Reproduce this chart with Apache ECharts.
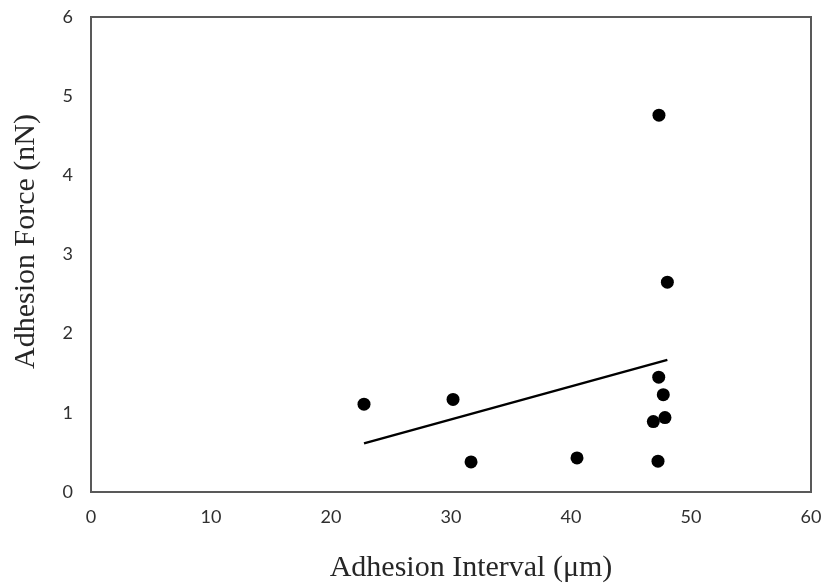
<!DOCTYPE html>
<html>
<head>
<meta charset="utf-8">
<title>Adhesion Force vs Adhesion Interval</title>
<script src="https://cdn.jsdelivr.net/npm/echarts@6/dist/echarts.min.js"></script>
<style>
  html, body { margin: 0; padding: 0; background: #ffffff; }
  #chart { width: 826px; height: 588px; }
</style>
</head>
<body>
<div id="chart"></div>
<script>
// Measured adhesion interval (µm) and adhesion force (nN)
const adhesionInterval = [22.75, 30.17, 31.67, 40.5, 47.33, 48.03, 47.31, 47.69, 46.86, 47.83, 47.25];
const adhesionForce    = [1.11, 1.17, 0.38, 0.43, 4.76, 2.65, 1.45, 1.23, 0.89, 0.94, 0.39];

const xTicks = [0, 10, 20, 30, 40, 50, 60];
const yTicks = [0, 1, 2, 3, 4, 5, 6];

// Least-squares linear trend line over the measured range
function linearFit(xs, ys) {
  const n = xs.length;
  const mx = xs.reduce((a, b) => a + b, 0) / n;
  const my = ys.reduce((a, b) => a + b, 0) / n;
  let sxy = 0, sxx = 0;
  for (let i = 0; i < n; i++) {
    sxy += (xs[i] - mx) * (ys[i] - my);
    sxx += (xs[i] - mx) * (xs[i] - mx);
  }
  const slope = sxy / sxx;
  return { slope, intercept: my - slope * mx };
}
const fit = linearFit(adhesionInterval, adhesionForce);
const xMin = Math.min(...adhesionInterval);
const xMax = Math.max(...adhesionInterval);
const trend = [
  [xMin, fit.intercept + fit.slope * xMin],
  [xMax, fit.intercept + fit.slope * xMax]
];

const points = adhesionInterval.map((x, i) => [x, adhesionForce[i]]);

const chart = echarts.init(document.getElementById('chart'), null, { renderer: 'canvas' });
const tickFont = { fontFamily: 'Lato, "Open Sans", sans-serif', fontSize: 18, color: '#303030' };
const titleFont = { fontFamily: '"Liberation Serif", "Times New Roman", serif', fontSize: 30, color: '#262626' };

chart.setOption({
  animation: false,
  backgroundColor: '#ffffff',
  grid: { left: 91, top: 17, right: 15, bottom: 96, containLabel: false,
          show: true, borderColor: '#595959', borderWidth: 2 },
  xAxis: {
    type: 'value', min: xTicks[0], max: xTicks[xTicks.length - 1], interval: 10,
    name: 'Adhesion Interval (μm)', nameLocation: 'middle', nameGap: 61,
    nameTextStyle: Object.assign({ padding: [0, 0, 0, 40] }, titleFont),
    axisLine: { show: true, lineStyle: { color: '#595959', width: 2 } },
    axisTick: { show: false },
    splitLine: { show: false },
    axisLabel: Object.assign({ margin: 16 }, tickFont)
  },
  yAxis: {
    type: 'value', min: yTicks[0], max: yTicks[yTicks.length - 1], interval: 1,
    name: 'Adhesion Force (nN)', nameLocation: 'middle', nameGap: 50,
    nameTextStyle: Object.assign({ padding: [0, 0, 0, 26] }, titleFont),
    axisLine: { show: true, lineStyle: { color: '#595959', width: 2 } },
    axisTick: { show: false },
    splitLine: { show: false },
    axisLabel: Object.assign({ margin: 18 }, tickFont)
  },
  series: [
    {
      type: 'scatter', data: points, symbol: 'circle', symbolSize: 13,
      itemStyle: { color: '#000000', opacity: 1 }, z: 3
    },
    {
      type: 'line', data: trend, showSymbol: false, symbol: 'none',
      lineStyle: { color: '#000000', width: 2.5 }, z: 2
    }
  ]
});
</script>
</body>
</html>
